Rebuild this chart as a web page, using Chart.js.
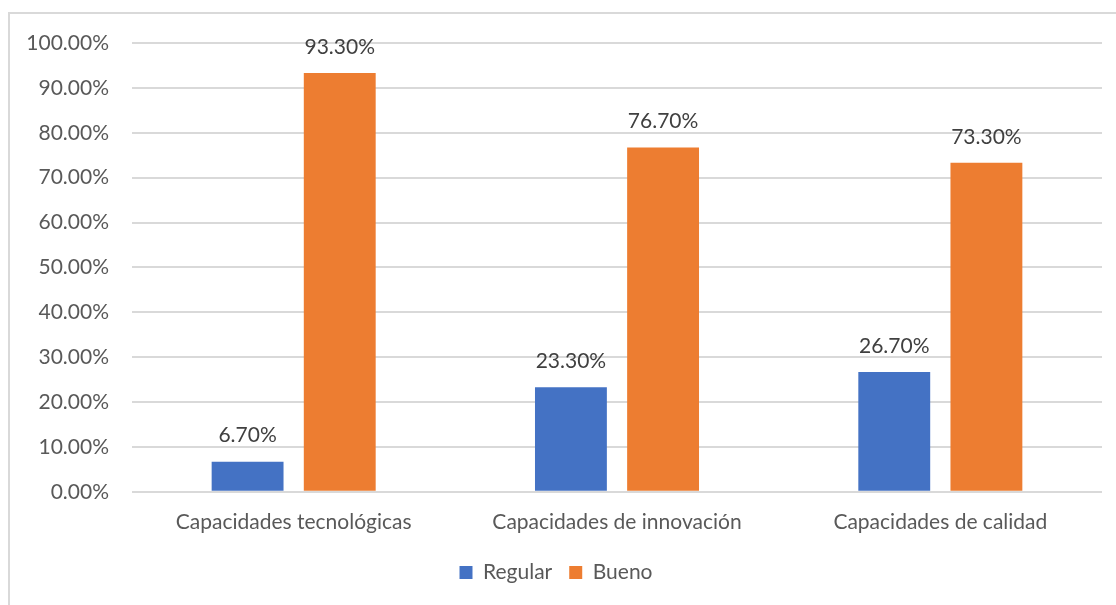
<!DOCTYPE html>
<html>
<head>
<meta charset="utf-8">
<script src="https://cdn.jsdelivr.net/npm/chart.js@4"></script>
<style>
  body { margin: 0; overflow: hidden; background: #fff; }
  #frame { position: absolute; left: 8px; top: 12px; width: 1200px; height: 700px; border: 2px solid #d9d9d9; }
  #wrap { position: absolute; left: 0; top: 0; width: 1116px; height: 605px; }
</style>
</head>
<body>
<div id="frame"></div>
<div id="wrap"><canvas id="myChart" width="1116" height="605"></canvas></div>
<script>
var categories = ["Capacidades tecnológicas", "Capacidades de innovación", "Capacidades de calidad"];
var regular = [6.7, 23.3, 26.7];
var bueno = [93.3, 76.7, 73.3];
var yTicks = [0, 10, 20, 30, 40, 50, 60, 70, 80, 90, 100];

var fontFamily = "Lato, 'Open Sans', sans-serif";
var fontSize = 21;

// writes each bar's value above it
var valueLabels = {
  id: "valueLabels",
  afterDatasetsDraw: function(chart) {
    var ctx = chart.ctx;
    ctx.save();
    ctx.font = fontSize + "px " + fontFamily;
    ctx.fillStyle = "#404040";
    ctx.textAlign = "center";
    ctx.textBaseline = "middle";
    chart.data.datasets.forEach(function(ds, i) {
      chart.getDatasetMeta(i).data.forEach(function(bar, j) {
        ctx.fillText(ds.data[j].toFixed(2) + "%", bar.x, bar.y - 26);
      });
    });
    ctx.restore();
  }
};

new Chart("myChart", {
  type: "bar",
  data: {
    labels: categories,
    datasets: [{
      label: "Regular",
      data: regular,
      backgroundColor: "#4472C4",
      categoryPercentage: 0.57,
      barPercentage: 0.78
    }, {
      label: "Bueno",
      data: bueno,
      backgroundColor: "#ED7D31",
      categoryPercentage: 0.57,
      barPercentage: 0.78
    }]
  },
  options: {
    responsive: false,
    animation: false,
    layout: { padding: { left: 10, right: 14, top: 43, bottom: 12 } },
    scales: {
      x: {
        grid: { display: false },
        border: { display: false },
        ticks: { color: "#595959", font: { size: fontSize, family: fontFamily }, padding: 10 }
      },
      y: {
        min: 0,
        max: 100,
        afterBuildTicks: function(scale) {
          scale.ticks = yTicks.map(function(v) { return { value: v }; });
        },
        afterFit: function(scale) { scale.width = 122; },
        grid: { color: "#d9d9d9", lineWidth: 2, drawTicks: false },
        border: { display: false },
        ticks: {
          color: "#595959",
          font: { size: fontSize, family: fontFamily },
          padding: 23,
          callback: function(v) { return v.toFixed(2) + "%"; }
        }
      }
    },
    plugins: {
      legend: {
        position: "bottom",
        labels: {
          color: "#595959",
          font: { size: fontSize, family: fontFamily },
          boxWidth: 13,
          boxHeight: 13,
          padding: 17
        }
      },
      tooltip: { enabled: false }
    }
  },
  plugins: [valueLabels]
});
</script>
</body>
</html>
